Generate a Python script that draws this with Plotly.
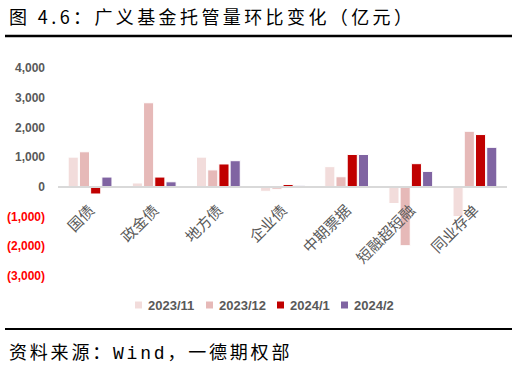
import plotly.graph_objects as go

categories = ["国债", "政金债", "地方债", "企业债", "中期票据", "短融超短融", "同业存单"]
series_names = ["2023/11", "2023/12", "2024/1", "2024/2"]
s_2023_11 = [1000, 130, 1000, -150, 680, -560, -1000]
s_2023_12 = [1180, 2830, 570, -80, 340, -1980, 1870]
s_2024_1 = [-240, 330, 770, 80, 1090, 780, 1760]
s_2024_2 = [330, 170, 880, 50, 1090, 520, 1330]
series_values = [s_2023_11, s_2023_12, s_2024_1, s_2024_2]
colors = ["#F2DCDB", "#E6B9B8", "#C00000", "#8064A2"]

tick_vals = [-3000, -2000, -1000, 0, 1000, 2000, 3000, 4000]
tick_text_plain = ["(3,000)", "(2,000)", "(1,000)", "0", "1,000", "2,000", "3,000", "4,000"]
tick_text = [
    ("<span style='color:#FF0000'>%s</span>" % t) if v < 0 else t
    for v, t in zip(tick_vals, tick_text_plain)
]

W, H = 520, 371
L, R, T, B = 58, 13, 68, 95
pw, ph = W - L - R, H - T - B


def px(x):
    return (x - L) / pw


def py(y):
    return (H - B - y) / ph


fig = go.Figure()
for name, vals, col in zip(series_names, series_values, colors):
    fig.add_trace(go.Bar(
        x=categories, y=vals, name=name, showlegend=False,
        marker=dict(color=col, line=dict(color="white", width=1)),
    ))

ymin, ymax = -3000, 4000
zero_pos = (0 - ymin) / (ymax - ymin)

# custom legend (small squares close to text, as in the original)
legend_x = [135, 206, 277, 341]
legend_y = 305
shapes = [
    dict(type="line", xref="paper", yref="paper", x0=px(5), x1=px(512),
         y0=py(36), y1=py(36), line=dict(color="black", width=2.5)),
    dict(type="line", xref="paper", yref="paper", x0=px(5), x1=px(512),
         y0=py(329), y1=py(329), line=dict(color="black", width=2)),
]
annotations = [
    dict(text="<span style='letter-spacing:3.4px'>图 4.6：广义基金托管量环比变化（亿元）</span>",
         xref="paper", yref="paper",
         x=px(7), y=py(16), xanchor="left", yanchor="middle", showarrow=False,
         font=dict(family="Noto Sans CJK SC", size=18, color="black")),
    dict(text="<span style='letter-spacing:2.8px'>资料来源：Wind，一德期权部</span>",
         xref="paper", yref="paper",
         x=px(7), y=py(353), xanchor="left", yanchor="middle", showarrow=False,
         font=dict(family="Liberation Mono, Noto Sans CJK SC", size=18, color="black")),
]
for name, col, lx in zip(series_names, colors, legend_x):
    shapes.append(dict(type="rect", xref="paper", yref="paper",
                       x0=px(lx), x1=px(lx + 7), y0=py(legend_y - 3.5), y1=py(legend_y + 3.5),
                       fillcolor=col, line=dict(width=0)))
    annotations.append(dict(text=name, xref="paper", yref="paper",
                            x=px(lx + 11), y=py(legend_y), xanchor="left", yanchor="middle",
                            showarrow=False,
                            font=dict(family="Liberation Sans", size=13, color="#595959",
                                      weight="bold")))

fig.update_layout(
    width=W, height=H,
    margin=dict(l=L, r=R, t=T, b=B),
    paper_bgcolor="white", plot_bgcolor="white",
    barmode="group", bargap=0.3, bargroupgap=0.1,
    font=dict(family="Noto Sans CJK SC", color="#595959"),
    showlegend=False,
    xaxis=dict(
        anchor="free", position=zero_pos, automargin=False,
        showline=True, linecolor="#D9D9D9", linewidth=1.5,
        ticks="", tickangle=-45, showgrid=False, zeroline=False,
        ticklabelstandoff=8,
        tickfont=dict(family="Noto Sans CJK SC", size=15, color="#595959"),
    ),
    yaxis=dict(
        range=[ymin, ymax], automargin=False,
        tickvals=tick_vals, ticktext=tick_text,
        showgrid=False, zeroline=False, showline=False, ticks="",
        ticklabelstandoff=12,
        tickfont=dict(family="Liberation Sans", size=12, color="#595959", weight="bold"),
    ),
    shapes=shapes,
    annotations=annotations,
)

fig.write_html("out.html", config={"displayModeBar": False},
               post_script="document.body.style.margin='0';")
